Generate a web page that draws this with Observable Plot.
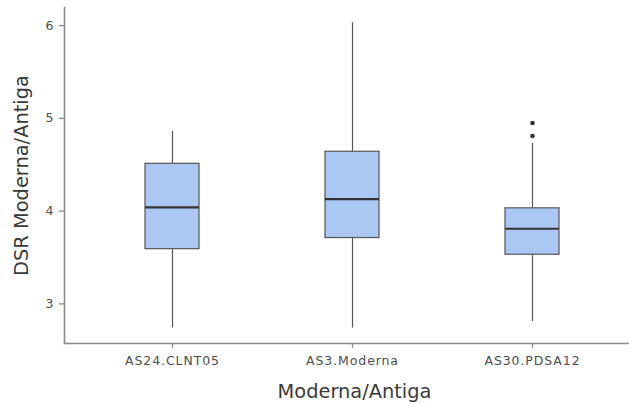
<!DOCTYPE html>
<html>
<head>
<meta charset="utf-8">
<script src="https://cdn.jsdelivr.net/npm/d3@7"></script>
<script src="https://cdn.jsdelivr.net/npm/@observablehq/plot@0.6"></script>
<style>
  html, body { margin: 0; padding: 0; background: #fff; }
  #chart svg { display: block; font-family: "DejaVu Sans", sans-serif; }
  g[aria-label="x-axis label"] text, g[aria-label="y-axis label"] text { font-size: 19.4px; fill: #3a3a3a; letter-spacing: 0; }
  g[aria-label="x-axis tick label"] text { letter-spacing: 0.9px; }
</style>
</head>
<body>
<div id="chart"></div>
<script>
const categories = ["AS24.CLNT05", "AS3.Moderna", "AS30.PDSA12"];
const whiskerLow  = [2.74, 2.74, 2.81];
const q1          = [3.59, 3.71, 3.53];
const median      = [4.04, 4.13, 3.81];
const q3          = [4.51, 4.64, 4.03];
const whiskerHigh = [4.86, 6.03, 4.73];
const outlierCategory = ["AS30.PDSA12", "AS30.PDSA12"];
const outlierValue    = [4.95, 4.81];
const yTicks = [3, 4, 5, 6];

const boxes = categories.map((c, i) => ({
  cat: c, lo: whiskerLow[i], q1: q1[i], med: median[i], q3: q3[i], hi: whiskerHigh[i]
}));
const outliers = outlierCategory.map((c, i) => ({cat: c, v: outlierValue[i]}));

const axisColor = "#8c8c8c";
const chart = Plot.plot({
  width: 629,
  height: 403,
  marginLeft: 64,
  marginRight: 1,
  marginTop: 7,
  marginBottom: 60,
  style: {fontFamily: "DejaVu Sans, sans-serif", background: "#fff"},
  x: {type: "band", domain: categories, range: [64, 640], paddingInner: 0.7, paddingOuter: 0.45},
  y: {domain: [2.573, 6.195]},
  marks: [
    Plot.ruleX(boxes, {x: "cat", y1: "lo", y2: "q1", stroke: "#555", strokeWidth: 1.2}),
    Plot.ruleX(boxes, {x: "cat", y1: "q3", y2: "hi", stroke: "#555", strokeWidth: 1.2}),
    Plot.barY(boxes, {x: "cat", y1: "q1", y2: "q3", fill: "#abc8f5", stroke: "#555", strokeWidth: 1.2}),
    Plot.tickY(boxes, {x: "cat", y: "med", stroke: "#333", strokeWidth: 2.2}),
    Plot.dot(outliers, {x: "cat", y: "v", r: 2.3, fill: "#333", stroke: null}),
    Plot.frame({anchor: "bottom", stroke: axisColor, strokeWidth: 1.6}),
    Plot.frame({anchor: "left", stroke: axisColor, strokeWidth: 1.6}),
    Plot.axisY({ticks: yTicks, tickFormat: d3.format("d"), tickSize: 5, tickPadding: 6, stroke: axisColor, strokeWidth: 1.3,
      fontSize: 12.5, color: "#4d4d4d", label: "DSR Moderna/Antiga", labelAnchor: "center", labelOffset: 50, labelArrow: false}),
    Plot.axisX({tickSize: 5, tickPadding: 8, stroke: axisColor, strokeWidth: 1.3,
      fontSize: 12.5, color: "#4d4d4d", label: "Moderna/Antiga", labelAnchor: "center", labelOffset: 54, labelArrow: false})
  ]
});
d3.select(chart).selectAll('g[aria-label="x-axis label"] text').attr("dx", 8);
document.getElementById("chart").appendChild(chart);
</script>
</body>
</html>
